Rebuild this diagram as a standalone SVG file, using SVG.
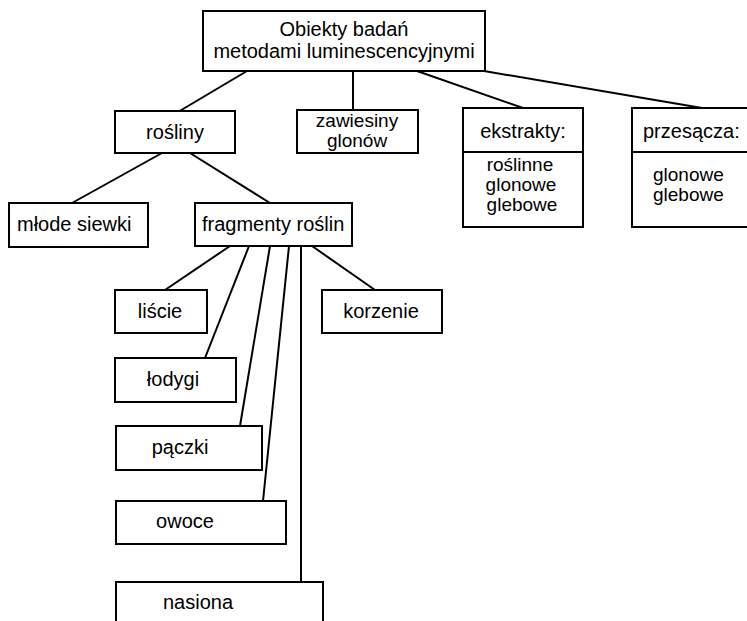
<svg xmlns="http://www.w3.org/2000/svg" width="747" height="621" viewBox="0 0 747 621">
<style>
.box{fill:#fff;stroke:#000;stroke-width:2}
.ln{stroke:#000;stroke-width:2;fill:none}
text{font-family:"Liberation Sans",Arial,sans-serif;font-size:20px;fill:#000}
.c{text-anchor:middle}
.s{font-size:19px}
</style>
<rect width="747" height="621" fill="#fff"/>
<g id="connectors" class="ln">
<line x1="247" y1="71" x2="178" y2="112"/>
<line x1="353" y1="71" x2="353" y2="110"/>
<line x1="417" y1="71" x2="523" y2="108"/>
<line x1="484" y1="71" x2="702" y2="108"/>
<line x1="162" y1="153" x2="72" y2="203"/>
<line x1="190" y1="153" x2="270" y2="203"/>
<line x1="230" y1="246" x2="165" y2="290"/>
<line x1="249" y1="246" x2="205" y2="358"/>
<line x1="270" y1="246" x2="240" y2="426"/>
<line x1="289" y1="246" x2="263" y2="501"/>
<line x1="301" y1="246" x2="301" y2="582"/>
<line x1="312" y1="246" x2="375" y2="290"/>
</g>
<g id="root"><rect class="box" x="203" y="11" width="282" height="60"/>
<text class="c" x="344" y="36">Obiekty badań</text>
<text class="c" x="344" y="58">metodami luminescencyjnymi</text></g>
<g id="rosliny"><rect class="box" x="115" y="111" width="120" height="42"/>
<text class="c" x="175" y="139">rośliny</text></g>
<g id="zawiesiny"><rect class="box" x="297" y="110" width="121" height="43"/>
<text class="c s" x="357" y="127">zawiesiny</text>
<text class="c s" x="357" y="147">glonów</text></g>
<g id="ekstrakty"><rect class="box" x="463" y="108" width="120" height="119"/>
<line class="ln" x1="463" y1="152" x2="583" y2="152"/>
<text class="c" x="523" y="138">ekstrakty:</text>
<text class="c s" x="520" y="171">roślinne</text>
<text class="c s" x="521" y="191">glonowe</text>
<text class="c s" x="522" y="211">glebowe</text></g>
<g id="przesacza"><rect class="box" x="632" y="108" width="130" height="119"/>
<line class="ln" x1="632" y1="152" x2="762" y2="152"/>
<text x="643" y="138">przesącza:</text>
<text class="s" x="653" y="181">glonowe</text>
<text class="s" x="653" y="201">glebowe</text></g>
<g id="mlode-siewki"><rect class="box" x="9" y="203" width="139" height="44"/>
<text x="17" y="231">młode siewki</text></g>
<g id="fragmenty"><rect class="box" x="195" y="203" width="157" height="43"/>
<text x="202" y="231">fragmenty roślin</text></g>
<g id="liscie"><rect class="box" x="115" y="290" width="92" height="43"/>
<text class="c" x="160" y="318">liście</text></g>
<g id="korzenie"><rect class="box" x="322" y="290" width="120" height="43"/>
<text class="c" x="381" y="318">korzenie</text></g>
<g id="lodygi"><rect class="box" x="115" y="358" width="121" height="44"/>
<text class="c" x="173" y="386">łodygi</text></g>
<g id="paczki"><rect class="box" x="116" y="426" width="146" height="44"/>
<text class="c" x="180" y="454">pączki</text></g>
<g id="owoce"><rect class="box" x="116" y="501" width="170" height="43"/>
<text class="c" x="185" y="528">owoce</text></g>
<g id="nasiona"><rect class="box" x="116" y="582" width="207" height="50"/>
<text class="c" x="198" y="609">nasiona</text></g>
</svg>
